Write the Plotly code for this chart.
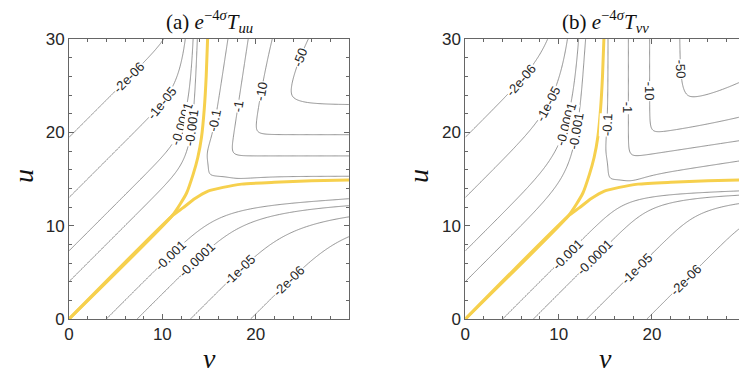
import numpy as np
import plotly.graph_objects as go

# ---------------- values ----------------
levels = [-2e-6, -1e-5, -1e-4, -1e-3, -0.1, -1, -10, -50]
level_labels = ['-2e-06', '-1e-05', '-0.0001', '-0.001', '-0.1', '-1', '-10', '-50']

# label anchor positions (v, u), per panel
labels_a_v = [6.3, 9.7, 11.9, 13.3, 15.8, 18.1, 21.5, 25.8, 10.6, 13.6, 18.5, 23.8]
labels_a_u = [26.0, 23.3, 21.0, 20.5, 21.2, 22.8, 24.2, 27.6, 7.1, 6.5, 5.1, 3.9]
labels_a_lv = [0, 1, 2, 3, 4, 5, 6, 7, 3, 2, 1, 0]

labels_b_v = [5.8, 9.1, 11.0, 12.3, 14.8, 16.4, 19.6, 24.3, 10.9, 13.9, 18.8, 23.9]
labels_b_u = [25.7, 23.0, 20.8, 20.1, 20.8, 22.6, 24.4, 26.9, 7.0, 6.5, 5.0, 4.0]
labels_b_lv = [0, 1, 2, 3, 4, 5, 6, 7, 3, 2, 1, 0]

# yellow curves (v, u) (same in both panels)
yellowA_v = [0.0, 11.0, 11.9, 12.6, 13.3, 13.8, 14.2, 14.5, 14.7, 14.85]
yellowA_u = [0.0, 11.0, 12.3, 13.5, 15.5, 17.3, 19.5, 22.6, 26.0, 30.0]
yellowB_v = [0.0, 11.0, 12.2, 13.5, 14.9, 16.5, 18.5, 22.0, 26.0, 30.0]
yellowB_u = [0.0, 11.0, 11.9, 12.9, 13.7, 14.1, 14.45, 14.65, 14.8, 14.9]

x_ticks = [0, 10, 20]
y_ticks = [0, 10, 20, 30]
titles = ['(a) <i>e</i><sup>\u22124<i>\u03c3</i></sup><i>T</i><sub><i>uu</i></sub>',
          '(b) <i>e</i><sup>\u22124<i>\u03c3</i></sup><i>T</i><sub><i>vv</i></sub>']


# ---------------- field model (log10 |e^{-4 sigma} T|) ----------------
def sp(t):
    return np.logaddexp(0.0, t)


def smin(a, b, k):
    return -k * np.logaddexp(-a / k, -b / k)


def profile(s, s0, slope, s1, cap_tau):
    # linear rise (slope) from -1 at s0, continued C1 into a saturating branch after s1
    lin = -1 + slope * (s - s0)
    l1 = -1 + slope * (s1 - s0)
    B = slope * cap_tau
    sat = (l1 + B) - B * np.exp(-(s - s1) / cap_tau)
    return np.where(s < s1, lin, sat)


def field_a(v, u):
    d = u - v
    m = smin(v, u, 0.3)
    # exterior part (outside the yellow curves)
    F = np.log10(0.287 / (d ** 4 + 31.0))
    G1 = smin(1.43 * np.exp((v - 13.3) / 0.85), 2.8, 0.3)
    G2 = smin(1.55 * np.exp((u - 12.1) / 1.4), 2.8, 0.3)
    w = 0.5 * (1 + np.tanh(d / 0.5))
    S = d ** 2 / (d ** 2 + 9.0)
    LE = F + (w * G1 + (1 - w) * G2) * S
    cut = 1.0 / (1.0 + np.exp((m - 15.0) / 0.4))
    # interior part
    dpos = 0.3 * sp(d / 0.3)
    fU = profile(v, 14.7, 0.39, 19.8, 3.5) - 0.9 * sp((14.0 - v) / 0.3)
    LU = fU - 0.07 * dpos
    fR = profile(u, 15.2, 0.44, 19.7, 2.1) - 0.9 * sp((14.4 - u) / 0.3)
    LI = smin(LU, fR, 0.2)
    return np.log10(cut * 10.0 ** LE + 10.0 ** LI)


def field_b(v, u):
    return field_a(u, v)


def place_label(f, x0, y0, lv):
    p = np.array([x0, y0], dtype=float)
    h = 1e-3
    gx = gy = 1.0
    for _ in range(40):
        val = f(p[0], p[1]) - lv
        gx = (f(p[0] + h, p[1]) - f(p[0] - h, p[1])) / (2 * h)
        gy = (f(p[0], p[1] + h) - f(p[0], p[1] - h)) / (2 * h)
        g2 = gx * gx + gy * gy + 1e-12
        step = val / g2 * np.array([gx, gy])
        n = np.hypot(*step)
        if n > 0.4:
            step *= 0.4 / n
        p -= step
    ang = np.degrees(np.arctan2(-gx, gy))
    while ang > 90:
        ang -= 180
    while ang <= -90:
        ang += 180
    return p, -ang


grid = np.linspace(0, 30, 301)
VV, UU = np.meshgrid(grid, grid)

fig = go.Figure()
panels = [(field_a, labels_a_v, labels_a_u, labels_a_lv, 'x', 'y'),
          (field_b, labels_b_v, labels_b_u, labels_b_lv, 'x2', 'y2')]
annotations = []
for f, lvv, luu, lli, xa, ya in panels:
    Z = f(VV, UU)
    for lev in levels:
        lz = np.log10(abs(lev))
        fig.add_trace(go.Contour(
            x=grid, y=grid, z=Z, xaxis=xa, yaxis=ya,
            contours=dict(start=lz, end=lz, size=1, coloring='lines', showlabels=False),
            colorscale=[[0, '#868686'], [1, '#868686']], showscale=False,
            line=dict(width=0.9), hoverinfo='skip'))
    for xs, ys in [(yellowA_v, yellowA_u), (yellowB_v, yellowB_u)]:
        fig.add_trace(go.Scatter(x=xs, y=ys, mode='lines', xaxis=xa, yaxis=ya,
                                 line=dict(color='#f6d04d', width=3, shape='spline', smoothing=0.6),
                                 hoverinfo='skip', showlegend=False))
    for x0, y0, li in zip(lvv, luu, lli):
        lz = np.log10(abs(levels[li]))
        p, ta = place_label(f, x0, y0, lz)
        annotations.append(dict(x=float(p[0]), y=float(p[1]), xref=xa, yref=ya,
                                text=level_labels[li], showarrow=False, textangle=float(ta),
                                font=dict(size=13, family='Liberation Sans', color='#262626'),
                                bgcolor='white', borderpad=0))

W, H = 747, 374
xdoms = [[61 / W, 341 / W], [457.3 / W, 737.3 / W]]
ydom = [63 / H, 343 / H]
title_font = dict(size=28, family='Liberation Serif', color='#111')
ylab_x = [15, 410]
for i, t in enumerate(titles):
    cx = sum(xdoms[i]) / 2
    annotations.append(dict(x=cx, y=1 - 13 / H, xref='paper', yref='paper',
                            text=t, showarrow=False, xanchor='center', yanchor='middle',
                            font=dict(size=21, family='Liberation Serif', color='#111')))
    annotations.append(dict(x=cx, y=1 - 350 / H, xref='paper', yref='paper',
                            text='<i>v</i>', showarrow=False, xanchor='center', yanchor='middle',
                            font=title_font))
    annotations.append(dict(x=ylab_x[i] / W, y=1 - 168 / H, xref='paper', yref='paper',
                            text='<i>u</i>', showarrow=False, xanchor='center', yanchor='middle',
                            textangle=-90, font=title_font))

axis_common = dict(range=[0, 30], showgrid=False, zeroline=False, showline=True,
                   linecolor='#666', linewidth=1, mirror='allticks', ticks='inside',
                   ticklen=5, tickcolor='#666', automargin=False,
                   minor=dict(dtick=2, ticks='inside', ticklen=3, tickcolor='#666'),
                   tickfont=dict(size=17, family='Liberation Sans', color='#262626'))

fig.update_layout(
    width=W, height=H, margin=dict(l=0, r=0, t=0, b=0, autoexpand=False),
    paper_bgcolor='white', plot_bgcolor='white', showlegend=False,
    xaxis=dict(domain=xdoms[0], anchor='y', tickvals=x_ticks, **axis_common),
    yaxis=dict(domain=ydom, anchor='x', tickvals=y_ticks, **axis_common),
    xaxis2=dict(domain=xdoms[1], anchor='y2', tickvals=x_ticks, **axis_common),
    yaxis2=dict(domain=ydom, anchor='x2', tickvals=y_ticks, **axis_common),
    annotations=annotations,
)

fig.write_html('out.html')
